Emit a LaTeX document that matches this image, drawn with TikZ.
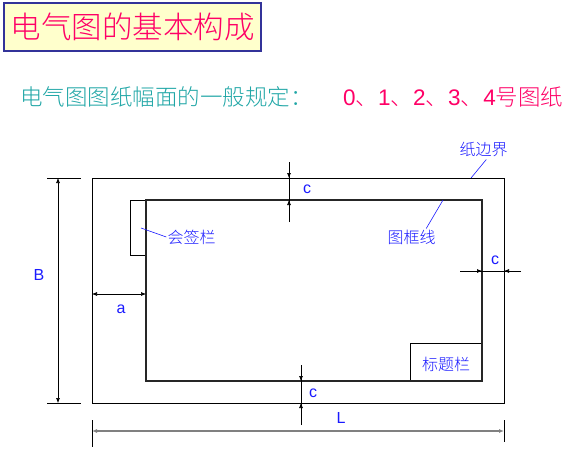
\documentclass[tikz,border=0pt]{standalone}
\usepackage{fontspec}
\setmainfont{Liberation Sans}
\IfFontExistsTF{Noto Sans CJK SC Light}
  {\newfontfamily\cjk{Noto Sans CJK SC Light}}
  {\newfontfamily\cjk{Noto Sans CJK SC}}
\usetikzlibrary{arrows.meta}
\definecolor{titlepink}{HTML}{FF0066}
\definecolor{titleblue}{HTML}{333399}
\definecolor{titlefill}{HTML}{FFFFCC}
\definecolor{subteal}{HTML}{20A6A6}
\definecolor{lblblue}{HTML}{1A1AFF}
\newcommand\dun{{\cjk 、}}
\tikzset{>={Latex[length=5pt,width=4pt]}}
\tikzset{
  paperline/.style={line width=0.9pt},
  frameline/.style={line width=1.6pt,draw=black!85},
  dimline/.style={line width=0.6pt},
  dimlbl/.style={text=lblblue,font=\fontsize{16}{18}\selectfont,inner sep=1pt},
  partlbl/.style={text=lblblue,font=\cjk\fontsize{16}{18}\selectfont,inner sep=1pt},
  leader/.style={draw=lblblue,line width=0.6pt}
}

\begin{document}
\begin{tikzpicture}[x=1pt,y=-1pt]
  \useasboundingbox (0,0) rectangle (585,456);

  % Headings
  \node[draw=titleblue,fill=titlefill,line width=2.2pt,minimum width=257pt,minimum height=48pt,
    inner sep=0pt,text=titlepink,font=\cjk\fontsize{30.5}{36}\selectfont] (title) at (132.5,27) {电气图的基本构成};
  \node[anchor=west,inner sep=0pt,text=subteal,font=\cjk\fontsize{22.5}{27}\selectfont] (rule) at (20,97) {电气图图纸幅面的一般规定：};
  \node[anchor=west,inner sep=0pt,text=titlepink,font=\fontsize{22.5}{27}\selectfont] (sizes) at (343,97) {0\dun 1\dun 2\dun 3\dun 4{\cjk 号图纸}};

  % Corners
  \coordinate (paperNW) at (92,178);
  \coordinate (paperSE) at (504,403);
  \coordinate (frameNW) at (146,200);
  \coordinate (frameSE) at (482,381);
  \coordinate (signNW) at (130,200);
  \coordinate (signSE) at (146,255);
  \coordinate (blockNW) at (410,343);

  % Dimension points
  \coordinate (ct1) at (289,162);
  \coordinate (ct2) at (289,178);
  \coordinate (ct3) at (289,200);
  \coordinate (ct4) at (289,222);
  \coordinate (cr1) at (460,271);
  \coordinate (cr2) at (482,271);
  \coordinate (cr3) at (504,271);
  \coordinate (cr4) at (521,271);
  \coordinate (cb1) at (301,365);
  \coordinate (cb2) at (301,381);
  \coordinate (cb3) at (301,403);
  \coordinate (cb4) at (301,425);
  \coordinate (a1) at (92,294);
  \coordinate (a2) at (146,294);
  \coordinate (b1) at (58,178);
  \coordinate (b2) at (58,403);
  \coordinate (l1) at (92,431);
  \coordinate (l2) at (504,431);

  % Sheet
  \draw[paperline] (paperNW) rectangle (paperSE);
  \draw[paperline] (signNW) rectangle (signSE);
  \draw[paperline] (blockNW) rectangle (frameSE);
  \draw[frameline] (frameNW) rectangle (frameSE);

  % Dimensions
  \draw[dimline] (ct1) -- (ct4);
  \draw[dimline,->] (ct1) -- (ct2);
  \draw[dimline,->] (ct4) -- (ct3);
  \draw[dimline] (cr1) -- (cr4);
  \draw[dimline,->] (cr1) -- (cr2);
  \draw[dimline,->] (cr4) -- (cr3);
  \draw[dimline] (cb1) -- (cb4);
  \draw[dimline,->] (cb1) -- (cb2);
  \draw[dimline,->] (cb4) -- (cb3);
  \draw[dimline,<->] (a1) -- (a2);
  \draw[dimline,<->] (b1) -- (b2);
  \draw[dimline] ([xshift=-11pt]b1) -- ([xshift=23pt]b1);
  \draw[dimline] ([xshift=-11pt]b2) -- ([xshift=23pt]b2);
  \draw[dimline,line width=1.6pt,draw=black!50,<->] (l1) -- (l2);
  \draw[dimline] ([yshift=11pt]l1) -- ([yshift=-16pt]l1);
  \draw[dimline] ([yshift=11pt]l2) -- ([yshift=-11pt]l2);

  % Labels
  \node[dimlbl] (ctl) at (307,189) {c};
  \node[dimlbl] (crl) at (495,260) {c};
  \node[dimlbl] (cbl) at (313,393) {c};
  \node[dimlbl] (al) at (121,309) {a};
  \node[dimlbl] (bl) at (39,275) {B};
  \node[dimlbl] (ll) at (341,418) {L};

  \node[partlbl] (sign) at (191.5,237) {会签栏};
  \node[partlbl] (block) at (446,364) {标题栏};
  \node[partlbl,inner sep=3pt] (edge) at (483.5,149) {纸边界};
  \node[partlbl] (frame) at (411.5,237) {图框线};

  % Leaders
  \coordinate (signtip) at (141,228);
  \coordinate (edgetip) at (471,178);
  \coordinate (frametip) at (443,200);
  \draw[leader] (signtip) -- (sign.west);
  \draw[leader] (edge.-75) -- (edgetip);
  \draw[leader] (frame.30) -- (frametip);
\end{tikzpicture}
\end{document}
